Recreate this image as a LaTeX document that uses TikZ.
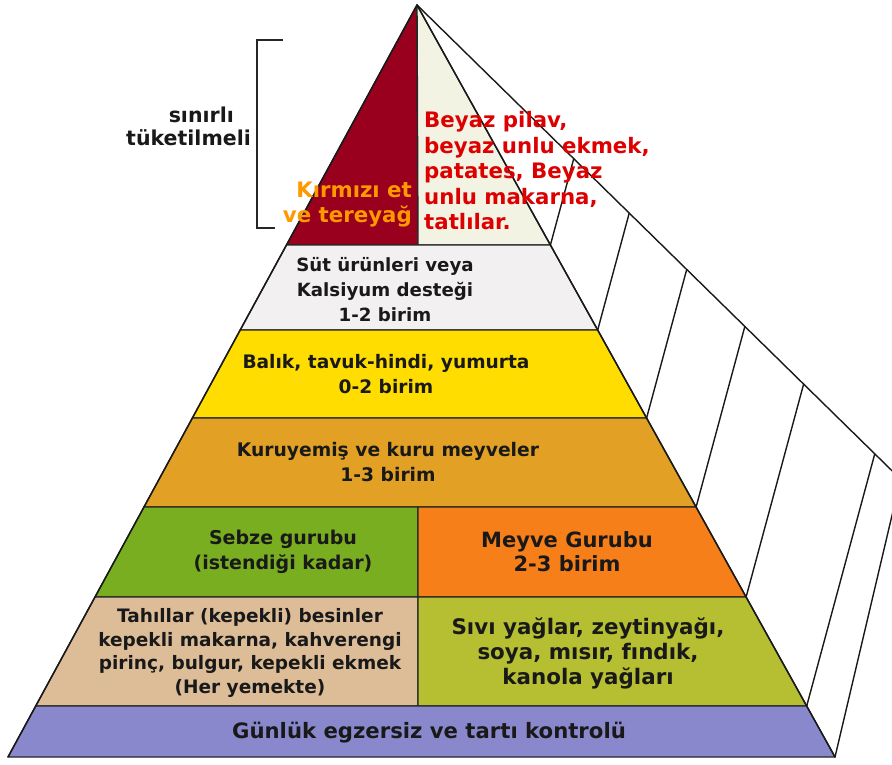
\documentclass[tikz,border=0pt]{standalone}
\usepackage{fontspec}
\setmainfont{DejaVu Sans}
\definecolor{cMeat}{HTML}{99001E}
\definecolor{cCream}{HTML}{F3F3E3}
\definecolor{cMilk}{HTML}{F2F0F0}
\definecolor{cYellow}{HTML}{FFDD00}
\definecolor{cNuts}{HTML}{E2A125}
\definecolor{cVeg}{HTML}{79AE20}
\definecolor{cFruit}{HTML}{F77F1A}
\definecolor{cGrain}{HTML}{DDBC98}
\definecolor{cOil}{HTML}{B6BE32}
\definecolor{cSport}{HTML}{8A88CC}
\definecolor{cOrangeTxt}{HTML}{FF9900}
\definecolor{cRedTxt}{HTML}{DD0000}
\newcommand{\fs}[2]{\fontsize{#1}{#2}\selectfont\bfseries}
\begin{document}
\begin{tikzpicture}[x=1pt,y=-1pt,
  band/.style={draw=black!85,line width=1.4pt,line join=round},
  edge/.style={draw=black!90,line width=1.4pt,line cap=round},
  lbl/.style={align=center,inner sep=0pt,text=black!90}]
\useasboundingbox (0,0) rectangle (892,765);
\fill[white] (0,0) rectangle (892,765);
% key points on the front edges
\coordinate (apex) at (417,5);
\coordinate (L1) at (286.5,245); \coordinate (R1) at (550.4,245);
\coordinate (L2) at (240.2,330); \coordinate (R2) at (597.7,330);
\coordinate (L3) at (192.4,418); \coordinate (R3) at (646.6,418);
\coordinate (L4) at (144.0,507); \coordinate (R4) at (696.1,507);
\coordinate (L5) at (95.0,597);  \coordinate (R5) at (746.1,597);
\coordinate (L6) at (35.7,706);  \coordinate (R6) at (806.7,706);
\coordinate (L7) at (8,757);     \coordinate (R7) at (835,757);
\coordinate (M1) at (418,245);
\coordinate (M4) at (418,507); \coordinate (M5) at (418,597); \coordinate (M6) at (418,706);
% side face
\begin{scope}
\clip (0,0) rectangle (892,765);
\draw[edge] (apex) -- (930,508);
\draw[edge] (R1) -- (573.7,158.8);
\draw[edge] (R2) -- (629.2,213.2);
\draw[edge] (R3) -- (686.7,269.5);
\draw[edge] (R4) -- (744.8,326.6);
\draw[edge] (R5) -- (803.6,384.2);
\draw[edge] (R6) -- (874.7,454.1);
\draw[edge] (R7) -- (902,473);
\end{scope}
% top triangles
\filldraw[band,fill=cMeat] (apex) -- (L1) -- (M1) -- cycle;
\filldraw[band,fill=cCream] (apex) -- (M1) -- (R1) -- cycle;
% bands
\filldraw[band,fill=cMilk] (L1) -- (R1) -- (R2) -- (L2) -- cycle;
\filldraw[band,fill=cYellow] (L2) -- (R2) -- (R3) -- (L3) -- cycle;
\filldraw[band,fill=cNuts] (L3) -- (R3) -- (R4) -- (L4) -- cycle;
\filldraw[band,fill=cVeg] (L4) -- (M4) -- (M5) -- (L5) -- cycle;
\filldraw[band,fill=cFruit] (M4) -- (R4) -- (R5) -- (M5) -- cycle;
\filldraw[band,fill=cGrain] (L5) -- (M5) -- (M6) -- (L6) -- cycle;
\filldraw[band,fill=cOil] (M5) -- (R5) -- (R6) -- (M6) -- cycle;
\filldraw[band,fill=cSport] (L6) -- (R6) -- (R7) -- (L7) -- cycle;
\draw[edge] (apex) -- (L7);
\draw[edge] (apex) -- (R7);
% bracket
\coordinate (bt) at (283,40); \coordinate (bb) at (275,228);
\draw[line width=1.4pt,black!85] (bt) -- (257,40) -- (257,228) -- (bb);
% texts
\node[lbl,anchor=east,font=\fs{20.5}{23}] (sinirli) at (234,115) {sınırlı};
\node[lbl,anchor=east,font=\fs{20.5}{23}] (tuketil) at (251,137.5) {tüketilmeli};
\node[lbl,align=right,anchor=east,text=cOrangeTxt,font=\fs{21.3}{25}] (kirmizi) at (412,204.5) {Kırmızı et\\ve tereyağ};
\node[lbl,align=left,anchor=west,text=cRedTxt,font=\fs{21.3}{25.5}] (beyaz) at (424,171) {Beyaz pilav,\\beyaz unlu ekmek,\\patates, Beyaz\\unlu makarna,\\tatlılar.};
\node[lbl,font=\fs{18.2}{25}] (sut) at (385,290) {Süt ürünleri veya\\Kalsiyum desteği\\1-2 birim};
\node[lbl,font=\fs{18.6}{25}] (balik) at (386,374.5) {Balık, tavuk-hindi, yumurta\\0-2 birim};
\node[lbl,font=\fs{18.7}{25}] (kuru) at (388,462.5) {Kuruyemiş ve kuru meyveler\\1-3 birim};
\node[lbl,font=\fs{19}{24.5}] (sebze) at (283,552) {Sebze gurubu\\(istendiği kadar)};
\node[lbl,font=\fs{21}{24.5}] (meyve) at (567,551.5) {Meyve Gurubu\\2-3 birim};
\node[lbl,font=\fs{18.5}{23.5}] (tahil) at (250,653) {Tahıllar (kepekli) besinler\\kepekli makarna, kahverengi\\pirinç, bulgur, kepekli ekmek\\(Her yemekte)};
\node[lbl,font=\fs{21.4}{25}] (sivi) at (588,653) {Sıvı yağlar, zeytinyağı,\\soya, mısır, fındık,\\kanola yağları};
\node[lbl,font=\fs{21.2}{25}] (gunluk) at (429,733) {Günlük egzersiz ve tartı kontrolü};
\end{tikzpicture}
\end{document}
